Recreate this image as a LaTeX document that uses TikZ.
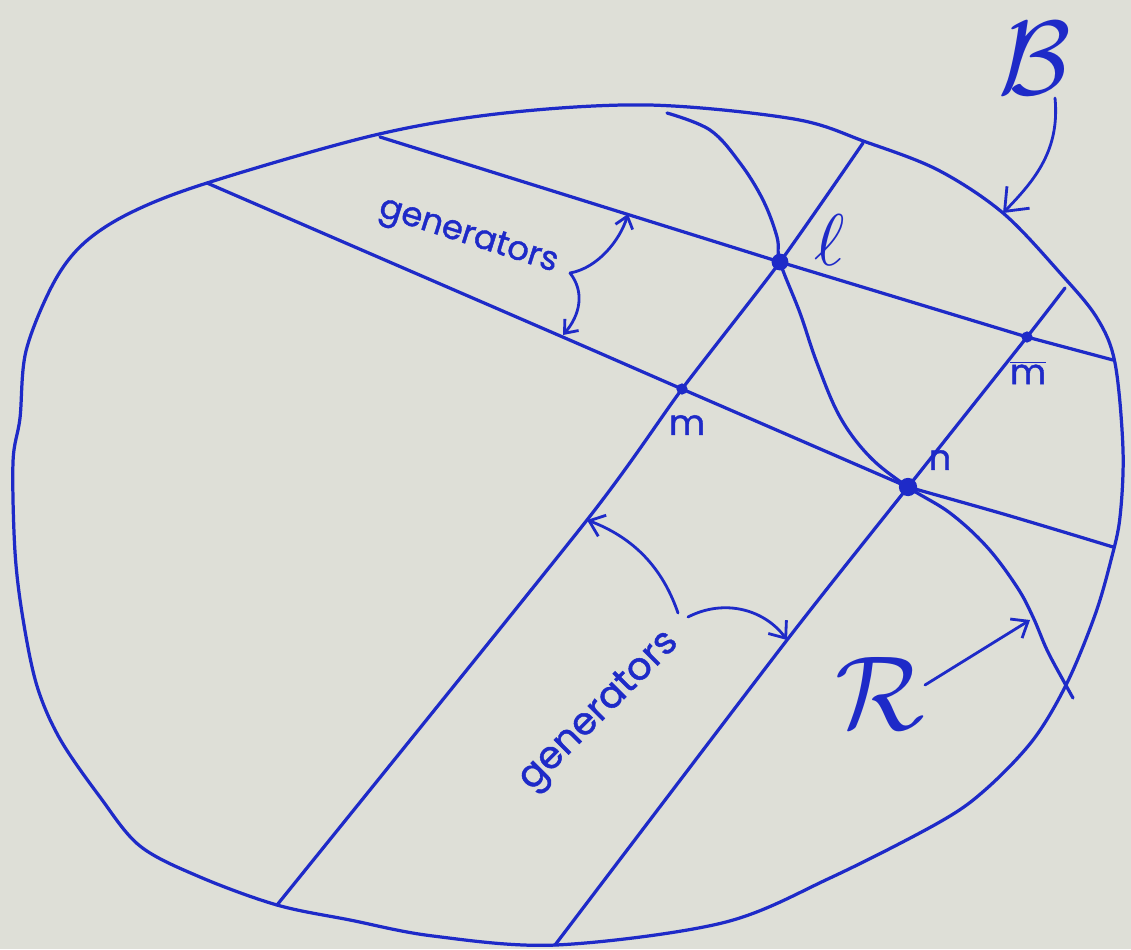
\documentclass[tikz,border=0pt]{standalone}
\usepackage{fontspec}
\usepackage{graphicx}
\newfontfamily\hand[FakeBold=1.2]{Poppins}
\usetikzlibrary{arrows.meta}
\definecolor{ink}{RGB}{30,42,200}
\definecolor{paper}{RGB}{222,223,215}
\begin{document}
\begin{tikzpicture}[x=0.025cm,y=-0.025cm,
  pen/.style={draw=ink,line width=2.3pt,line cap=round,line join=round},
  thinpen/.style={draw=ink,line width=2pt,line cap=round,line join=round},
  dot/.style={circle,fill=ink,inner sep=0pt,minimum size=#1},
  lab/.style={text=ink,inner sep=0pt},
  barb/.style={-{Straight Barb[length=#1,width=1.6*#1,line width=2pt]}}
]
\fill[paper] (0,0) rectangle (1131,949);
\useasboundingbox (0,0) rectangle (1131,949);

% boundary B
\draw[pen] plot[smooth cycle,tension=0.55] coordinates {
 (649,105) (794,119) (866,142) (938,170) (1003,213) (1061,274) (1097,318)
 (1115,363) (1123,450) (1120,517) (1111,560) (1095,615) (1067,683) (1033,740)
 (985,790) (938,823) (830,878) (722,923) (556,945) (433,936) (350,920) (277,905)
 (200,877) (140,846) (100,797) (60,739) (37,686) (23,619) (15,552) (13,462)
 (20,418) (26,351) (53,284) (83,244) (130,213) (207,183) (375,135) (505,113)};

% points
\coordinate (l) at (780,262);
\coordinate (m) at (682,389);
\coordinate (n) at (908,487);
\coordinate (mb) at (1027,337);
\coordinate (L1a) at (380,137);
\coordinate (L1b) at (1113,360);
\coordinate (L2a) at (207,183);
\coordinate (L2t) at (565,338);
\coordinate (L2b) at (1113,547);
\coordinate (L3a) at (277,905);
\coordinate (L3t) at (587,520);
\coordinate (L3b) at (863,143);
\coordinate (L4a) at (555,945);
\coordinate (L4t) at (787,640);
\coordinate (L4b) at (1065,288);
\coordinate (Ra) at (667,113);
\coordinate (Rb) at (1073,698);
\coordinate (Rt) at (1030,620);

% generators (lines)
\draw[pen] (L1a) -- (l) -- (mb) -- (L1b);
\draw[pen] plot[smooth,tension=0.4] coordinates {(L2a) (L2t) (m) (n)};
\draw[pen] plot[smooth,tension=0.4] coordinates {(n) (1000,513) (1067,533) (L2b)};
\draw[pen] plot[smooth,tension=0.4] coordinates {(L3a) (L3t) (m) (l) (L3b)};
\draw[pen] plot[smooth,tension=0.4] coordinates {(L4a) (L4t) (n) (mb) (L4b)};

% curve R
\draw[pen] plot[smooth,tension=0.6] coordinates {(Ra) (710,130) (740,163) (763,200)
  (777,237) (l) (800,313) (817,363) (840,417) (870,457) (n) (950,513) (987,547)
  (1017,587) (1033,617) (1047,650) (1063,680) (Rb)};

% dots
\node[dot=12pt] (ldot) at (l) {};
\node[dot=13pt] (ndot) at (n) {};
\node[dot=8pt] (mdot) at (m) {};
\node[dot=8pt] (mbdot) at (mb) {};

% labels
\node[lab] (Blab) at (1035,58) {\scalebox{7.5}{$\mathcal{B}$}};
\node[lab] (Rlab) at (880,693) {\scalebox{7.5}{$\mathcal{R}$}};
\node[lab] (llab) at (830,240) {\scalebox{5.2}{$\ell$}};
\node[lab,font=\hand\fontsize{25}{28}\selectfont] (mlab) at (687,425) {m};
\node[lab,font=\hand\fontsize{25}{28}\selectfont] (nlab) at (940,460) {n};
\node[lab,font=\hand\fontsize{25}{28}\selectfont] (mblab) at (1028,373) {$\overline{\mbox{\hand m}}$};
\node[lab,font=\hand\fontsize{24}{28}\selectfont,rotate=-17.7] (g1) at (468,237) {generators};
\node[lab,font=\hand\fontsize{27}{30}\selectfont,rotate=45] (g2) at (600,712) {generators};

% arrows
\coordinate (Bs) at (1055,98);
\coordinate (Bt) at (1003,213);
\draw[thinpen,barb=14pt] (Bs) .. controls (1060,150) and (1035,180) .. (Bt);
\coordinate (Rs) at (925,685);
\draw[thinpen,barb=10pt] (Rs) -- (Rt);
\coordinate (G1s) at (570,273);
\coordinate (G1t) at (628,214);
\coordinate (G1u) at (563,335);
\draw[thinpen,barb=8pt] (G1s) .. controls (598,268) and (620,240) .. (G1t);
\draw[thinpen,barb=8pt] (G1s) .. controls (585,292) and (580,315) .. (G1u);
\coordinate (G2s) at (678,613);
\coordinate (G2r) at (688,617);
\draw[thinpen,barb=10pt] (G2s) .. controls (665,575) and (640,540) .. (L3t);
\draw[thinpen,barb=10pt] (G2r) .. controls (725,598) and (765,610) .. (L4t);
\end{tikzpicture}
\end{document}
